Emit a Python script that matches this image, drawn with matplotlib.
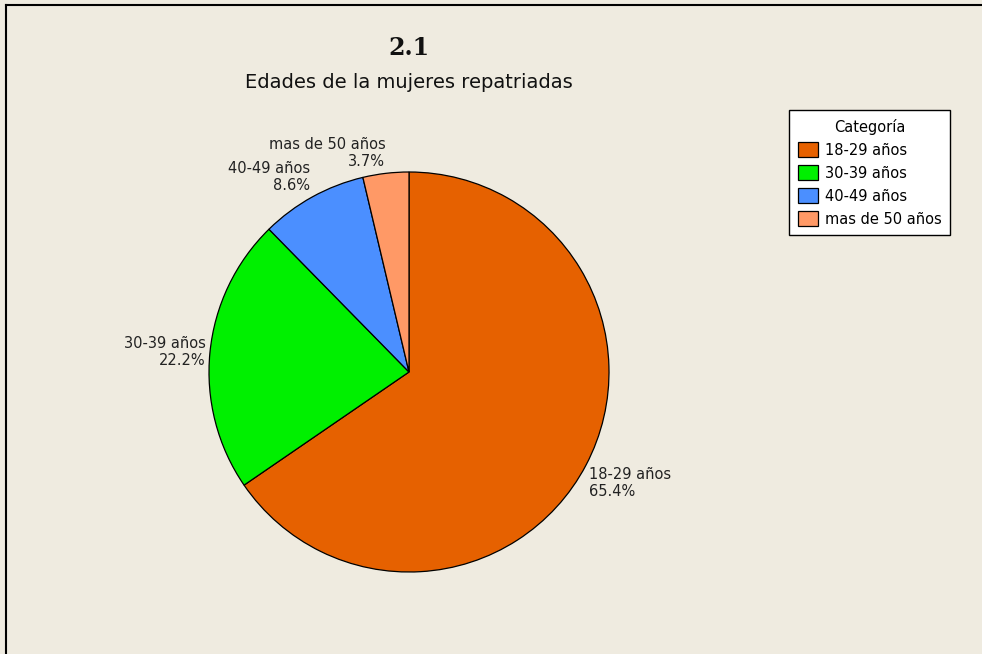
import matplotlib.pyplot as plt
from matplotlib.lines import Line2D

categories = ["18-29 años", "30-39 años", "40-49 años", "mas de 50 años"]
counts = [53, 18, 7, 3]
colors = ["#E66100", "#00F000", "#4B8FFF", "#FF9966"]

total = sum(counts)
labels = [f"{c}\n{n / total * 100:.1f}%" for c, n in zip(categories, counts)]

W, H = 982, 654
fig = plt.figure(figsize=(W / 100, H / 100), dpi=100, facecolor="#EFEBE0")

# pie centred at (409, 372) px, radius ~200 px
cx, cy, r = 409, 372, 200
ax = fig.add_axes([(cx - r) / W, (H - cy - r) / H, 2 * r / W, 2 * r / H])
ax.set_facecolor("none")

wedges, texts = ax.pie(counts, colors=colors, labels=labels, startangle=90,
                       counterclock=False, labeldistance=1.02,
                       wedgeprops=dict(edgecolor="black", linewidth=0.9),
                       textprops=dict(fontsize=10.5, color="#222222"))
for t in texts:
    t.set_multialignment(t.get_ha())
    y = t.get_position()[1]
    if y > 0.3:
        t.set_va("bottom")
    elif y < -0.3:
        t.set_va("top")
ax.set_xlim(-1, 1)
ax.set_ylim(-1, 1)
ax.set_aspect("equal")

fig.text(cx / W, 1 - 48 / H, "2.1", ha="center", va="center",
         fontsize=17, fontweight="bold", family="DejaVu Serif", color="#111111")
fig.text(cx / W, 1 - 83 / H, "Edades de la mujeres repatriadas", ha="center",
         va="center", fontsize=14, color="#111111")

leg = ax.legend(wedges, categories, title="Categoría", loc="upper left",
                bbox_to_anchor=(789 / W, 1 - 110 / H), borderaxespad=0,
                bbox_transform=fig.transFigure, fontsize=10.5, title_fontsize=10.5,
                frameon=True, fancybox=False, edgecolor="black",
                handlelength=1.4, handleheight=1.2, borderpad=0.6,
                labelspacing=0.52, handletextpad=0.45, framealpha=1)
leg.get_frame().set_linewidth(1.0)
for h in leg.legend_handles:
    h.set_edgecolor("black")

# window border on left and top
fig.add_artist(Line2D([5.5 / W, 5.5 / W], [0, 1 - 5 / H], color="black",
                      linewidth=1.5, transform=fig.transFigure))
fig.add_artist(Line2D([5.5 / W, 1], [1 - 5 / H, 1 - 5 / H], color="black",
                      linewidth=1.5, transform=fig.transFigure))

fig.savefig("out.png", dpi=100, facecolor=fig.get_facecolor())
